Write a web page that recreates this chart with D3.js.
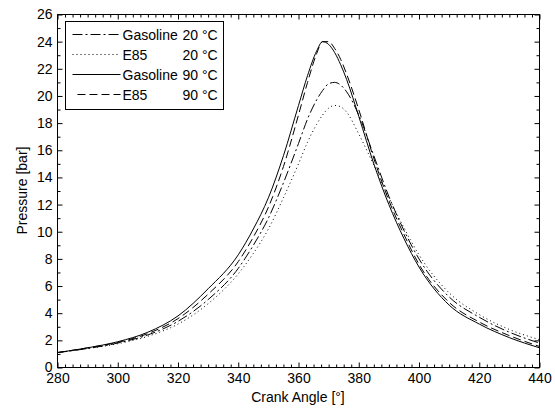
<!DOCTYPE html>
<html>
<head>
<meta charset="utf-8">
<script src="https://cdn.jsdelivr.net/npm/d3@7"></script>
<style>
  body { margin: 0; background: #fff; }
  text { font-family: "Liberation Sans", Arial, sans-serif; }
</style>
</head>
<body>
<div id="chart"></div>
<script>
// crank angle samples (deg)
const angles = [280, 290, 300, 310, 320, 330, 340, 345, 350, 355, 360, 363, 366, 368, 370, 372, 374, 376, 380, 385, 390, 395, 400, 410, 420, 430, 440];

// pressure [bar]
const gasoline20 = [1.1, 1.4, 1.8, 2.4, 3.4, 5.0, 7.3, 9.0, 11.0, 13.6, 16.5, 18.3, 19.7, 20.4, 20.9, 21.0, 20.8, 20.3, 18.6, 15.6, 12.6, 10.1, 8.0, 5.2, 3.7, 2.6, 1.8];
const e85_20     = [1.1, 1.4, 1.75, 2.3, 3.2, 4.7, 6.9, 8.4, 10.2, 12.5, 15.0, 16.6, 17.9, 18.6, 19.1, 19.3, 19.2, 18.8, 17.2, 14.9, 12.5, 10.3, 8.3, 5.5, 3.9, 2.8, 2.05];
const gasoline90 = [1.1, 1.45, 1.9, 2.6, 3.8, 5.8, 8.3, 10.2, 12.5, 15.6, 19.3, 21.5, 23.3, 24.0, 23.8, 23.2, 22.3, 21.2, 18.5, 15.0, 12.0, 9.5, 7.4, 4.6, 3.2, 2.2, 1.45];
const e85_90     = [1.1, 1.45, 1.85, 2.5, 3.6, 5.4, 7.8, 9.6, 11.8, 14.8, 18.6, 21.0, 23.1, 24.0, 24.0, 23.5, 22.7, 21.6, 19.0, 15.4, 12.3, 9.8, 7.6, 4.8, 3.35, 2.35, 1.55];

const seriesNames = ["Gasoline", "E85", "Gasoline", "E85"];
const seriesTemps = ["20 °C", "20 °C", "90 °C", "90 °C"];
const seriesValues = [gasoline20, e85_20, gasoline90, e85_90];
const dashes = ["10,3,2,3", "1,3", null, "8,4"];

const xTicks = [280, 300, 320, 340, 360, 380, 400, 420, 440];
const yTicks = [0, 2, 4, 6, 8, 10, 12, 14, 16, 18, 20, 22, 24, 26];

const W = 555, H = 408;
const margin = {top: 14, right: 16, bottom: 41, left: 57};
const width = W - margin.left - margin.right,
      height = H - margin.top - margin.bottom;

const svg = d3.select("#chart").append("svg")
    .attr("width", W).attr("height", H);
const g = svg.append("g")
    .attr("transform", `translate(${margin.left + 0.5},${margin.top + 0.5})`);

const x = d3.scaleLinear().domain([280, 440]).range([0, width]);
const y = d3.scaleLinear().domain([0, 26]).range([height, 0]);

const xMinor = d3.range(280, 440.01, 2.5).filter(v => v % 20 !== 0);
const yMinor = d3.range(1, 26, 2);

function styleAxis(sel) {
  sel.selectAll("line").attr("stroke", "#000");
  sel.select(".domain").remove();
  sel.selectAll("text").attr("fill", "#000").style("font-size", "14px");
}

// bottom
g.append("g").attr("transform", `translate(0,${height})`)
  .call(d3.axisBottom(x).tickValues(xTicks).tickSize(-5).tickPadding(6).tickFormat(d3.format("d")))
  .call(styleAxis);
g.append("g").attr("transform", `translate(0,${height})`)
  .call(d3.axisBottom(x).tickValues(xMinor).tickSize(-3).tickFormat(""))
  .call(styleAxis);
// top
g.append("g")
  .call(d3.axisTop(x).tickValues(xTicks).tickSize(-5).tickFormat(""))
  .call(styleAxis);
g.append("g")
  .call(d3.axisTop(x).tickValues(xMinor).tickSize(-3).tickFormat(""))
  .call(styleAxis);
// left
g.append("g")
  .call(d3.axisLeft(y).tickValues(yTicks).tickSize(-5).tickPadding(5).tickFormat(d3.format("d")))
  .call(styleAxis);
g.append("g")
  .call(d3.axisLeft(y).tickValues(yMinor).tickSize(-3).tickFormat(""))
  .call(styleAxis);
// right
g.append("g").attr("transform", `translate(${width},0)`)
  .call(d3.axisRight(y).tickValues(yTicks).tickSize(-5).tickFormat(""))
  .call(styleAxis);
g.append("g").attr("transform", `translate(${width},0)`)
  .call(d3.axisRight(y).tickValues(yMinor).tickSize(-3).tickFormat(""))
  .call(styleAxis);

// frame
g.append("rect").attr("width", width).attr("height", height)
  .attr("fill", "none").attr("stroke", "#000");

// curves
const line = d3.line()
  .x(d => x(d[0])).y(d => y(d[1]))
  .curve(d3.curveMonotoneX);

seriesValues.forEach((vals, i) => {
  g.append("path")
    .datum(angles.map((a, k) => [a, vals[k]]))
    .attr("fill", "none")
    .attr("stroke", "#000")
    .attr("stroke-width", 1)
    .attr("stroke-dasharray", dashes[i])
    .attr("d", line);
});

// axis titles
svg.append("text")
  .attr("x", margin.left + width / 2).attr("y", 402)
  .attr("text-anchor", "middle").style("font-size", "14px")
  .text("Crank Angle [°]");
svg.append("text")
  .attr("transform", `translate(27,${margin.top + height / 2}) rotate(-90)`)
  .attr("text-anchor", "middle").style("font-size", "14px")
  .text("Pressure [bar]");

// legend
const lg = svg.append("g").attr("transform", "translate(65.5,21.5)");
lg.append("rect").attr("width", 158).attr("height", 88)
  .attr("fill", "#fff").attr("stroke", "#000");
seriesNames.forEach((name, i) => {
  const ly = 13 + i * 20;
  lg.append("line")
    .attr("x1", dashes[i] === "8,4" ? 12 : 7).attr("x2", 55)
    .attr("y1", ly).attr("y2", ly)
    .attr("stroke", "#000").attr("stroke-dasharray", dashes[i]);
  lg.append("text").attr("x", 57).attr("y", ly + 5)
    .style("font-size", "14px").text(name);
  lg.append("text").attr("x", 117).attr("y", ly + 5)
    .style("font-size", "14px").text(seriesTemps[i]);
});
</script>
</body>
</html>
